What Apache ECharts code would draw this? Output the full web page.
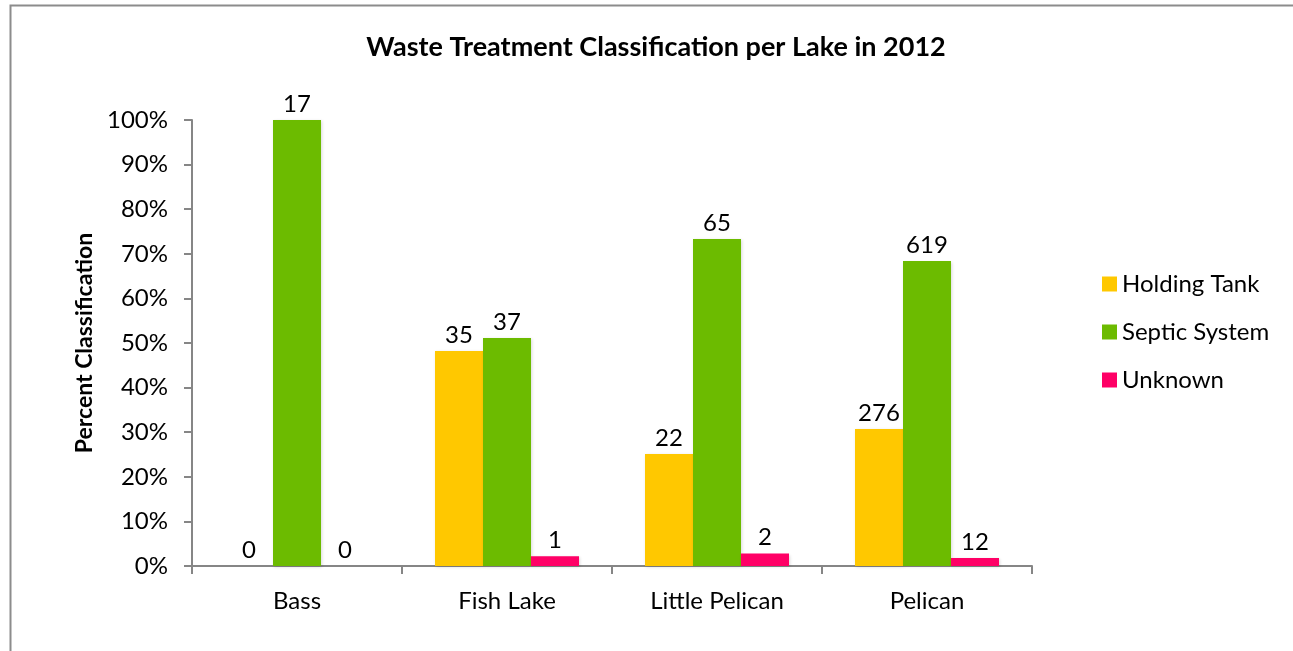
<!DOCTYPE html>
<html>
<head>
<meta charset="utf-8">
<script src="https://cdn.jsdelivr.net/npm/echarts@6/dist/echarts.min.js"></script>
<style>
html,body{margin:0;padding:0;background:#fff;}
#chart{width:1293px;height:651px;}
</style>
</head>
<body>
<div id="chart"></div>
<script>
const categories = ['Bass', 'Fish Lake', 'Little Pelican', 'Pelican'];
const seriesNames = ['Holding Tank', 'Septic System', 'Unknown'];
// percent values
const holdingPct = [0, 48.2, 25.1, 30.7];
const septicPct = [100, 51.1, 73.3, 68.4];
const unknownPct = [0, 2.2, 2.8, 1.8];
// counts shown as data labels
const holdingCount = [0, 35, 22, 276];
const septicCount = [17, 37, 65, 619];
const unknownCount = [0, 1, 2, 12];
const yTicks = [0, 10, 20, 30, 40, 50, 60, 70, 80, 90, 100];

const FONT = 'Lato';
const colors = ['#FFC800', '#6CBB00', '#FF0066'];
const valuesList = [holdingPct, septicPct, unknownPct];
const countsList = [holdingCount, septicCount, unknownCount];

const chart = echarts.init(document.getElementById('chart'));
chart.setOption({
  backgroundColor: '#fff',
  animation: false,
  textStyle: { fontFamily: FONT },
  graphic: [{
    type: 'rect', left: 8, top: 3, silent: true,
    shape: { width: 1400, height: 700 },
    style: { fill: 'none', stroke: '#8c8c8c', lineWidth: 2 }
  }],
  title: {
    text: 'Waste Treatment Classification per Lake in 2012',
    left: 651, top: 29, textAlign: 'center',
    textStyle: { fontFamily: FONT, fontWeight: 'bold', fontSize: 27, color: '#000' }
  },
  legend: {
    orient: 'vertical', left: 1097, top: 267,
    itemWidth: 15, itemHeight: 15, itemGap: 24,
    icon: 'rect',
    textStyle: { fontFamily: FONT, fontSize: 24, color: '#000', padding: [0, 0, 0, 0] },
    data: seriesNames
  },
  grid: { left: 192, right: 261, top: 120, bottom: 85, containLabel: false },
  xAxis: {
    type: 'category', data: categories,
    axisLine: { lineStyle: { color: '#868686', width: 2 } },
    axisTick: { show: true, length: 8, lineStyle: { color: '#868686', width: 2 } },
    axisLabel: { fontFamily: FONT, fontSize: 24, color: '#000', margin: 23 }
  },
  yAxis: {
    type: 'value', min: yTicks[0], max: yTicks[yTicks.length - 1], interval: 10,
    name: 'Percent Classification', nameLocation: 'middle', nameGap: 96,
    nameTextStyle: { fontFamily: FONT, fontWeight: 'bold', fontSize: 23, color: '#000' },
    axisLine: { show: true, lineStyle: { color: '#868686', width: 2 } },
    axisTick: { show: true, length: 8, lineStyle: { color: '#868686', width: 2 } },
    splitLine: { show: false },
    axisLabel: { fontFamily: FONT, fontSize: 24, color: '#000', margin: 24, formatter: '{value}%' }
  },
  series: seriesNames.map((name, i) => ({
    name: name, type: 'bar',
    data: valuesList[i],
    barWidth: 48, barGap: '0%',
    itemStyle: { color: colors[i], shadowColor: 'rgba(0,0,0,0.15)', shadowBlur: 3, shadowOffsetX: 1, shadowOffsetY: 1 },
    label: {
      show: true, position: 'top', distance: 4,
      fontFamily: FONT, fontSize: 24, color: '#000',
      formatter: p => String(countsList[i][p.dataIndex])
    }
  }))
});
</script>
</body>
</html>
